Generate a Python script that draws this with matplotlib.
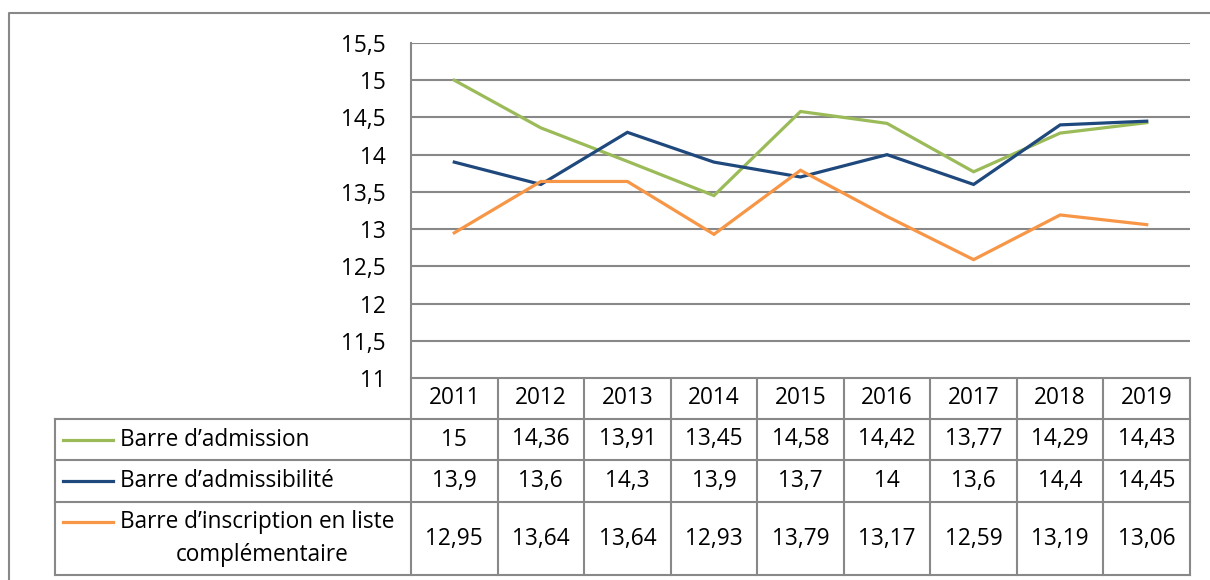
import matplotlib
matplotlib.use('Agg')
import matplotlib.pyplot as plt

years = ['2011', '2012', '2013', '2014', '2015', '2016', '2017', '2018', '2019']
admission = [15, 14.36, 13.91, 13.45, 14.58, 14.42, 13.77, 14.29, 14.43]
admissibilite = [13.9, 13.6, 14.3, 13.9, 13.7, 14, 13.6, 14.4, 14.45]
complementaire = [12.95, 13.64, 13.64, 12.93, 13.79, 13.17, 12.59, 13.19, 13.06]
series_names = ['Barre d’admission', 'Barre d’admissibilité',
                'Barre d’inscription en liste\ncomplémentaire']
colors = ['#9BBB59', '#1F497D', '#F79646']
yticks = [11, 11.5, 12, 12.5, 13, 13.5, 14, 14.5, 15, 15.5]

plt.rcParams['font.family'] = ['Open Sans', 'DejaVu Sans']
FS = 16.3
GRID = '#888888'
W, H = 1210, 580

fig = plt.figure(figsize=(W / 100, H / 100), dpi=100)

# overlay axes in pixel coordinates for border and table
tab = fig.add_axes([0, 0, 1, 1])
tab.set_xlim(0, W)
tab.set_ylim(H, 0)
tab.axis('off')

# main line chart
x0, x1, ytop, ybot = 411, 1190, 43, 378
ax = fig.add_axes([x0 / W, 1 - ybot / H, (x1 - x0) / W, (ybot - ytop) / H])
xs = list(range(len(years)))
for vals, c in zip([admission, admissibilite, complementaire], colors):
    ax.plot(xs, vals, color=c, linewidth=2.3, solid_joinstyle='miter', zorder=3)
ax.set_xlim(-0.5, len(years) - 0.5)
ax.set_ylim(11, 15.5)
ax.set_yticks(yticks)
ax.set_yticklabels([f'{v:g}'.replace('.', ',') for v in yticks], fontsize=FS)
ax.tick_params(axis='y', length=0, pad=18)
ax.set_xticks([])
ax.yaxis.grid(True, color=GRID, linewidth=1.5)
ax.set_axisbelow(True)
for s in ['top', 'right', 'bottom']:
    ax.spines[s].set_visible(False)
ax.spines['left'].set_color(GRID)
ax.spines['left'].set_linewidth(1.5)

# outer border
tab.plot([9, 9, W], [H, 13, 13], color=GRID, linewidth=1.5)

# data table
lw = 1.5
col_w = (x1 - x0) / len(years)
row_y = [378, 419, 460, 502, 575]
tab.plot([x0, x1], [row_y[0], row_y[0]], color=GRID, linewidth=lw)
for y in row_y[1:]:
    tab.plot([55, x1], [y, y], color=GRID, linewidth=lw)
tab.plot([55, 55], [row_y[1], row_y[-1]], color=GRID, linewidth=lw)
for i in range(len(years) + 1):
    tab.plot([x0 + i * col_w] * 2, [row_y[0], row_y[-1]], color=GRID, linewidth=lw)

for i, yr in enumerate(years):
    tab.text(x0 + (i + 0.5) * col_w, (row_y[0] + row_y[1]) / 2, yr,
             ha='center', va='center', fontsize=FS)

for r, (vals, name, c) in enumerate(zip([admission, admissibilite, complementaire],
                                        series_names, colors)):
    yc = (row_y[r + 1] + row_y[r + 2]) / 2
    for i, v in enumerate(vals):
        tab.text(x0 + (i + 0.5) * col_w, yc, f'{v:g}'.replace('.', ','),
                 ha='center', va='center', fontsize=FS)
    if '\n' in name:
        first, second = name.split('\n')
        key_y = 522
        tab.text(120, 522, first, ha='left', va='center', fontsize=FS)
        tab.text(262, 555, second, ha='center', va='center', fontsize=FS)
    else:
        key_y = yc
        tab.text(120, yc, name, ha='left', va='center', fontsize=FS)
    tab.plot([63, 113], [key_y, key_y], color=c, linewidth=2.3)

fig.savefig('out.png', dpi=100)
